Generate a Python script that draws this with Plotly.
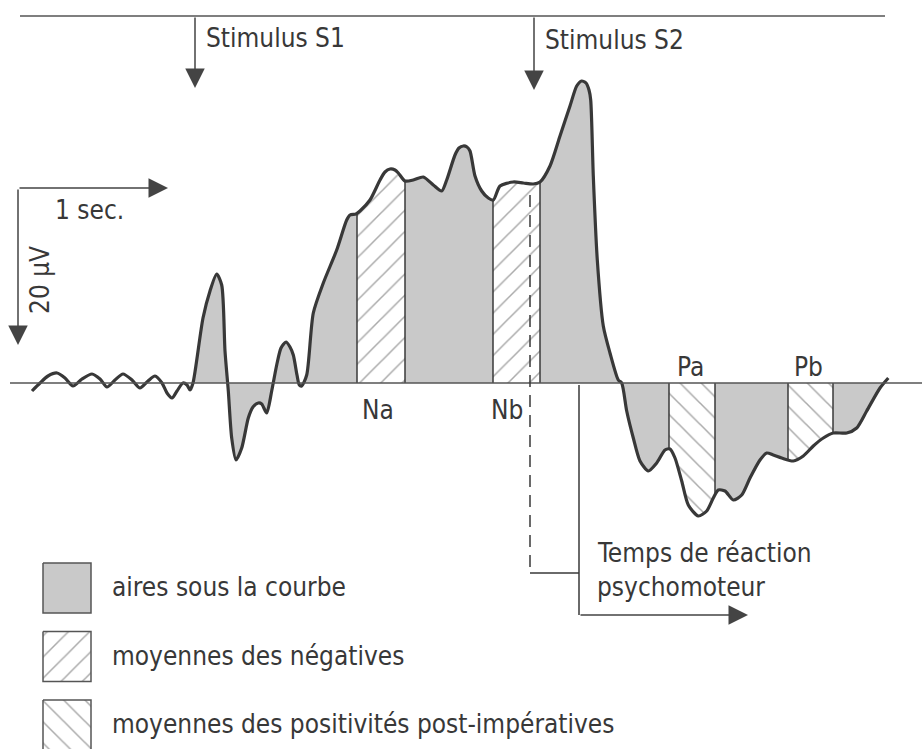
import numpy as np
import plotly.graph_objects as go

# curve: time in drawing units (150 = 1 sec),
# amplitude in drawing units above the baseline (157 = 20 µV)
t = [32, 40, 48, 57, 65, 73, 82, 92, 100, 107, 115, 123, 132, 140, 148, 155, 162, 167, 172, 177, 183, 187, 190, 193,
     203, 210, 216.7, 221.7, 225, 228.3, 231.7, 236, 241.7, 248.3, 253, 258.3, 261.7, 266.7, 271.7, 276.7, 281, 286,
     290, 293.3, 297, 299.3, 301.7, 306.7, 313.3, 323.3, 336.7, 346.7, 350, 356, 360, 370, 380, 385, 390, 395, 398.3,
     405, 413.3, 423.3, 433.3, 441.7, 446.7, 455, 459, 463.3, 467, 470, 475, 481.7, 488.3, 493.3, 500, 513.3, 523.3,
     533.3, 540, 550, 560, 570, 576.7, 581.7, 586, 589, 590.7, 593.3, 597.3, 603.3, 610, 618.3, 621.7, 626.7, 633.3,
     640, 648.3, 656.7, 665, 670, 675, 681.7, 688.3, 698.3, 706.7, 713.3, 718.3, 725, 733.3, 741.7, 750, 760, 766.7,
     773.3, 781.7, 793.3, 803.3, 813.3, 823.3, 833.3, 846.7, 856.7, 866.7, 880, 888.3]
amp = [-8, 0, 7, 10, 5, -3, 4, 9, 4, -4, 3, 9, 3, -5, 2, 7, 0, -10, -15, -8, 0, -2, -7, 0,
       65, 92, 109, 98, 32, -8, -55, -77, -65, -35, -24, -20, -21, -30, -8, 18, 35, 41,
       36, 28, 8, -2, -3, 8, 70, 100, 133, 163, 168, 169, 172, 183, 203, 211, 214, 213, 210,
       202, 203, 206, 198, 192, 203, 228, 235, 237, 236, 232, 207, 192, 185, 183, 197, 201, 200,
       199, 201, 217, 247, 277, 297, 302, 300, 293, 283, 207, 123, 57, 30, 3, 0, -28, -55,
       -78, -88, -80, -67, -66, -75, -98, -122, -133, -128, -115, -107, -108, -117, -112, -95, -77, -70,
       -72, -75, -78, -73, -63, -55, -50, -50, -45, -28, -5, 5]

# measured areas: limits along time and kind of fill
band_edges = [193, 302, 357, 405, 493, 540, 669, 715, 788, 833, 882]
band_kind = ["aire", "aire", "neg", "aire", "neg", "aire", "pos", "aire", "pos", "aire"]
separators = [357, 405, 493, 540, 669, 715, 788, 833]

peak_labels = ["Na", "Nb", "Pa", "Pb"]
peak_t = [378, 507, 690, 808]
peak_amp = [-27, -27, 16, 16]

legend_labels = ["aires sous la courbe", "moyennes des négatives",
                 "moyennes des positivités post-impératives"]
legend_kind = ["aire", "neg", "pos"]

INK = "#383838"
GREY = "#c9c9c9"
FONT = dict(family="DejaVu Sans Condensed, Liberation Sans Narrow, sans-serif", size=26, color=INK)
patterns = {"neg": "/", "pos": "\\"}

t_arr = np.array(t, dtype=float)
a_arr = np.array(amp, dtype=float)

fig = go.Figure()

def fill_style(kind):
    if kind == "aire":
        return dict(fillcolor=GREY)
    return dict(fillcolor="white",
                fillpattern=dict(shape=patterns[kind], fgcolor="#555555", bgcolor="white", size=15, solidity=0.1))

for lo, hi, kind in zip(band_edges[:-1], band_edges[1:], band_kind):
    inside = (t_arr > lo) & (t_arr < hi)
    xs = np.concatenate([[lo], t_arr[inside], [hi]])
    ys = np.concatenate([[np.interp(lo, t_arr, a_arr)], a_arr[inside], [np.interp(hi, t_arr, a_arr)]])
    fig.add_trace(go.Scatter(x=xs, y=ys, mode="lines", line=dict(width=0, shape="spline", smoothing=0.7),
                             fill="tozeroy", hoverinfo="skip", **fill_style(kind)))

# thin separators between areas
sx, sy = [], []
for s in separators:
    sx += [s, s, None]
    sy += [0, np.interp(s, t_arr, a_arr), None]
fig.add_trace(go.Scatter(x=sx, y=sy, mode="lines", line=dict(color=INK, width=1.5), hoverinfo="skip"))

# baseline and top line
fig.add_shape(type="line", x0=10, x1=922, y0=0, y1=0, line=dict(color="#555555", width=1.6))
fig.add_shape(type="line", x0=20, x1=885, y0=367, y1=367, line=dict(color="#555555", width=1.6))

# the EEG curve
fig.add_trace(go.Scatter(x=t, y=amp, mode="lines", line=dict(color=INK, width=3.2, shape="spline", smoothing=0.7),
                         hoverinfo="skip"))

# legend boxes
for i, (lab, kind) in enumerate(zip(legend_labels, legend_kind)):
    top = -180 - i * 68.5
    fig.add_trace(go.Scatter(x=[43, 91, 91, 43, 43], y=[top, top, top - 50, top - 50, top], mode="lines",
                             fill="toself", line=dict(color="#555555", width=1.5), hoverinfo="skip",
                             **fill_style(kind)))
    fig.add_annotation(x=110, y=top - 24, text=lab, showarrow=False, xanchor="left", yanchor="middle", font=FONT)

for lab, x, y in zip(peak_labels, peak_t, peak_amp):
    fig.add_annotation(x=x, y=y, text=lab, showarrow=False, xanchor="center", yanchor="middle", font=FONT)

arrow = dict(showarrow=True, arrowhead=2, arrowsize=2.6, arrowwidth=1.5, arrowcolor="#444444",
             axref="x", ayref="y", text="", standoff=0)
fig.add_annotation(x=195, y=295, ax=195, ay=367, **arrow)
fig.add_annotation(x=534, y=293, ax=534, ay=367, **arrow)
fig.add_annotation(x=204, y=345, text="Stimulus S1", showarrow=False, xanchor="left", font=FONT)
fig.add_annotation(x=543, y=343, text="Stimulus S2", showarrow=False, xanchor="left", font=FONT)

# scale bars
fig.add_annotation(x=168, y=195, ax=18, ay=195, **arrow)
fig.add_annotation(x=18, y=38, ax=18, ay=195, **arrow)
fig.add_annotation(x=53, y=173, text="1 sec.", showarrow=False, xanchor="left", font=FONT)
fig.add_annotation(x=40, y=103, text="20 µV", showarrow=False, textangle=-90, font=FONT)

# reaction time
fig.add_shape(type="line", x0=530, x1=530, y0=188, y1=-190, line=dict(color=INK, width=1.5, dash="12px,8px"))
fig.add_shape(type="line", x0=530, x1=579, y0=-190, y1=-190, line=dict(color=INK, width=1.5))
fig.add_shape(type="line", x0=579, x1=579, y0=-2, y1=-232, line=dict(color=INK, width=1.5))
fig.add_annotation(x=748, y=-232, ax=579, ay=-232, **arrow)
fig.add_annotation(x=595, y=-170, text="Temps de réaction", showarrow=False, xanchor="left", font=FONT)
fig.add_annotation(x=595, y=-204, text="psychomoteur", showarrow=False, xanchor="left", font=FONT)

fig.update_layout(width=922, height=749, margin=dict(l=0, r=0, t=0, b=0), showlegend=False,
                  plot_bgcolor="white", paper_bgcolor="white")
fig.update_xaxes(range=[0, 922], visible=False, fixedrange=True)
fig.update_yaxes(range=[-366, 383], visible=False, fixedrange=True)

fig.write_html("out.html", config={"displayModeBar": False},
               post_script="document.body.style.margin='0';")
